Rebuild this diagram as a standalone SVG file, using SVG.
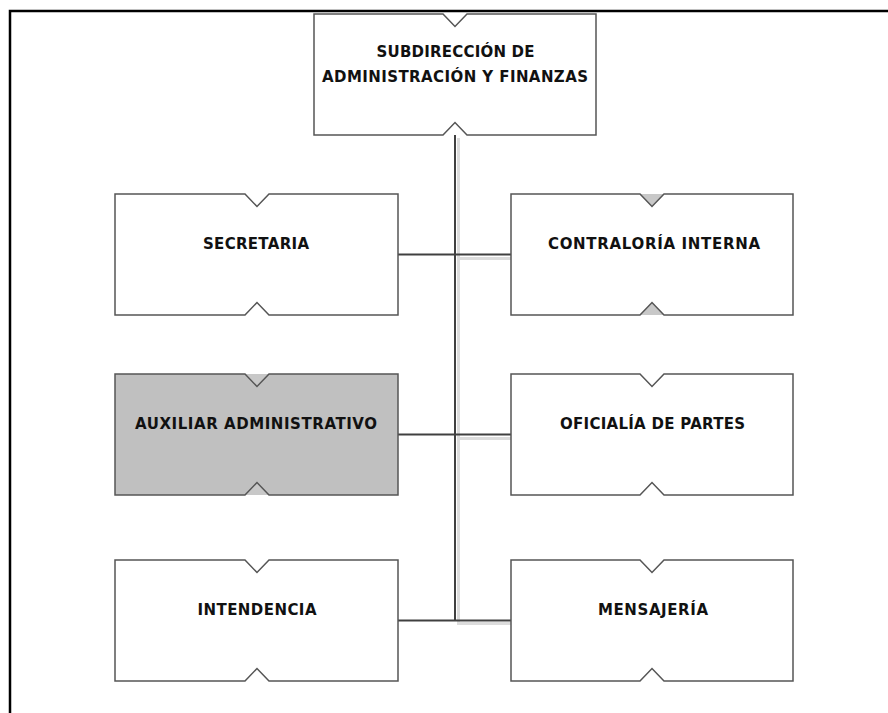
<svg xmlns="http://www.w3.org/2000/svg" width="888" height="713" viewBox="0 0 888 713">
  <style>
    .box { stroke: #555; stroke-width: 1.5; stroke-linejoin: miter; }
    .plain { fill: #ffffff; }
    .hl { fill: #c0c0c0; }
    .tab { fill: #c8c8c8; stroke: none; }
    .lbl { font-family: "DejaVu Sans", "Liberation Sans", Arial, sans-serif; font-weight: bold; font-size: 15px; fill: #111; text-anchor: middle; }
    .conn { stroke: #404040; stroke-width: 2; fill: none; }
    .shadow { stroke: #dcdcdc; stroke-width: 3; fill: none; }
    .frame { stroke: #000; stroke-width: 2.5; fill: none; }
  </style>

  <rect width="888" height="713" fill="#ffffff"/>

  <!-- page frame: top and left rules -->
  <path class="frame" d="M10,713 V11 H888"/>

  <!-- connectors -->
  <g id="connectors">
    <path class="shadow" d="M458.5,138 V622"/>
    <path class="shadow" d="M457,258.5 H517 M457,438.5 H517 M457,623.5 H517"/>
    <path class="conn" d="M455,135 V620.5"/>
    <path class="conn" d="M398,254.5 H511 M398,434.5 H511 M398,620.5 H511"/>
  </g>

  <!-- top node -->
  <g id="subdireccion">
    <path class="box plain" d="M314,14 H443 L455,26.5 L467,14 H596 V135 H467 L455,122.5 L443,135 H314 Z"/>
    <text class="lbl" x="455.5" y="57" textLength="158">SUBDIRECCIÓN DE</text>
    <text class="lbl" x="455" y="82" textLength="266">ADMINISTRACIÓN Y FINANZAS</text>
  </g>

  <g id="secretaria">
    <path class="box plain" d="M115,194 H245 L257,206.5 L269,194 H398 V315 H269 L257,302.5 L245,315 H115 Z"/>
    <text class="lbl" x="256" y="249" textLength="106">SECRETARIA</text>
  </g>

  <g id="contraloria">
    <path class="tab" d="M640,194 L652,206.5 L664,194 Z M640,315 L652,302.5 L664,315 Z"/>
    <path class="box plain" d="M511,194 H640 L652,206.5 L664,194 H793 V315 H664 L652,302.5 L640,315 H511 Z"/>
    <text class="lbl" x="654" y="249" textLength="212">CONTRALORÍA INTERNA</text>
  </g>

  <g id="auxiliar">
    <path class="tab" d="M245,374 L257,386.5 L269,374 Z M245,495 L257,482.5 L269,495 Z"/>
    <path class="box hl" d="M115,374 H245 L257,386.5 L269,374 H398 V495 H269 L257,482.5 L245,495 H115 Z"/>
    <text class="lbl" x="256" y="429" textLength="242">AUXILIAR ADMINISTRATIVO</text>
  </g>

  <g id="oficialia">
    <path class="box plain" d="M511,374 H640 L652,386.5 L664,374 H793 V495 H664 L652,482.5 L640,495 H511 Z"/>
    <text class="lbl" x="652.5" y="429" textLength="185">OFICIALÍA DE PARTES</text>
  </g>

  <g id="intendencia">
    <path class="box plain" d="M115,560 H245 L257,572.5 L269,560 H398 V681 H269 L257,668.5 L245,681 H115 Z"/>
    <text class="lbl" x="257" y="615" textLength="119">INTENDENCIA</text>
  </g>

  <g id="mensajeria">
    <path class="box plain" d="M511,560 H640 L652,572.5 L664,560 H793 V681 H664 L652,668.5 L640,681 H511 Z"/>
    <text class="lbl" x="653" y="615" textLength="110">MENSAJERÍA</text>
  </g>
</svg>
